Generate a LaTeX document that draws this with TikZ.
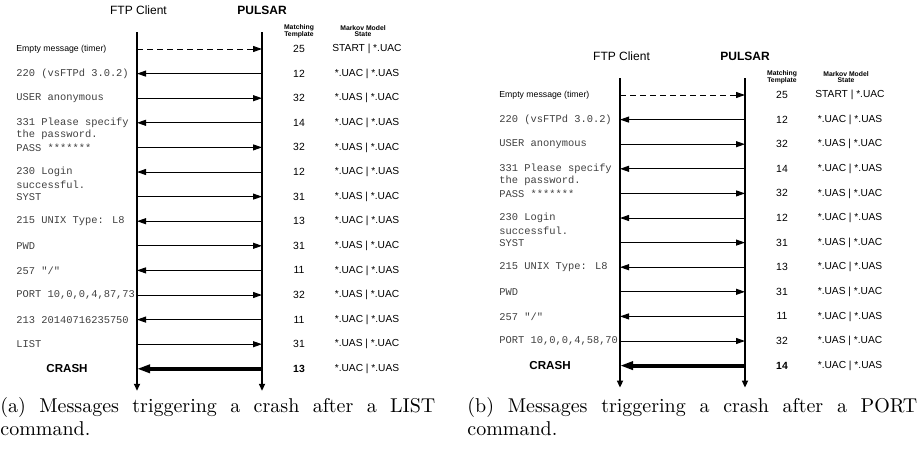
\documentclass[tikz,border=0pt]{standalone}
\usepackage{fontspec}
\newfontfamily\helvfont{Liberation Sans}
\newfontfamily\courfont{Liberation Mono}
\usetikzlibrary{arrows.meta}
\tikzset{
  party/.style={inner sep=0pt, font=\helvfont\fontsize{6}{7}\selectfont},
  pulsar/.style={inner sep=0pt, font=\helvfont\bfseries\fontsize{6}{7}\selectfont},
  head/.style={inner sep=0pt, align=center, font=\helvfont\bfseries\fontsize{3.4}{3.3}\selectfont},
  msglabel/.style={anchor=west, inner sep=0pt, text=black!75, font=\courfont\fontsize{5.2}{6}\selectfont},
  timerlabel/.style={anchor=west, inner sep=0pt, font=\helvfont\fontsize{4.35}{5}\selectfont},
  crashlabel/.style={inner sep=0pt, font=\helvfont\bfseries\fontsize{5.8}{6}\selectfont},
  tmpl/.style={inner sep=0pt, font=\helvfont\fontsize{5.2}{6}\selectfont},
  tmplbold/.style={inner sep=0pt, font=\helvfont\bfseries\fontsize{5.2}{6}\selectfont},
  state/.style={inner sep=0pt, font=\helvfont\fontsize{5.1}{6}\selectfont},
  lifeline/.style={line width=0.8pt, -{Triangle[length=3.5pt,width=3pt]}},
  sendR/.style={line width=0.5pt, -{Triangle[length=4.5pt,width=3pt]}},
  sendL/.style={line width=0.5pt, {Triangle[length=4.5pt,width=3pt]}-},
  timer/.style={sendR, dash pattern=on 3pt off 2pt},
  crash/.style={line width=2pt, {Triangle[length=6.5pt,width=4pt]}-},
  subcap/.style={anchor=north west, inner sep=0pt, text width=#1, align=justify, font=\fontsize{10}{11.5}\selectfont},
}
\begin{document}
\begin{tikzpicture}[x=0.5pt,y=-0.5pt,line join=round]
\def\pitch{24.6}
\useasboundingbox (0,0) rectangle (919,461);
% (a) crash after LIST
\begin{scope}[shift={(137,49)}]
\node[party] (aclient) at (1.5,-39) {FTP Client};
\node[pulsar] (apulsar) at (125,-39) {PULSAR};
\node[head] (atmpl) at (162,-18) {Matching\\Template};
\node[head] (astate) at (226,-18) {Markov Model\\State};
\coordinate (actop) at (0,-17);
\coordinate (acbot) at (0,{13*\pitch+22});
\coordinate (aptop) at (125,-17);
\coordinate (apbot) at (125,{13*\pitch+22});
\draw[lifeline] (actop) -- (acbot);
\draw[lifeline] (aptop) -- (apbot);
\coordinate (ac1) at (0,0);
\coordinate (ap1) at (125,0);
\node[timerlabel] (am1) at (-121,0) {Empty message (timer)};
\draw[timer] (ac1) -- (ap1);
\node[tmpl] (an1) at (162,0) {25};
\node[state] (as1) at (230,0) {START | *.UAC};
\foreach \i/\m/\s/\n/\q in {
  2/{220 (vsFTPd 3.0.2)}/sendL/12/{*.UAC | *.UAS},
  3/{USER anonymous}/sendR/32/{*.UAS | *.UAC},
  4/{331 Please specify}/sendL/14/{*.UAC | *.UAS},
  5/{PASS *******}/sendR/32/{*.UAS | *.UAC},
  6/{230 Login}/sendL/12/{*.UAC | *.UAS},
  7/{SYST}/sendR/31/{*.UAS | *.UAC},
  8/{215 UNIX Type: L8}/sendL/13/{*.UAC | *.UAS},
  9/{PWD}/sendR/31/{*.UAS | *.UAC},
  10/{257 "/"}/sendL/11/{*.UAC | *.UAS},
  11/{PORT 10,0,0,4,87,73}/sendR/32/{*.UAS | *.UAC},
  12/{213 20140716235750}/sendL/11/{*.UAC | *.UAS},
  13/{LIST}/sendR/31/{*.UAS | *.UAC}}{
  \coordinate (ac\i) at (0,{(\i-1)*\pitch});
  \coordinate (ap\i) at (125,{(\i-1)*\pitch});
  \node[msglabel] (am\i) at (-121,{(\i-1)*\pitch}) {\m};
  \draw[\s] (ac\i) -- (ap\i);
  \node[tmpl] (an\i) at (162,{(\i-1)*\pitch}) {\n};
  \node[state] (as\i) at (230,{(\i-1)*\pitch}) {\q};
}
\node[msglabel] (am4x) at (-121,{3*\pitch+12.3}) {the password.};
\node[msglabel] (am6x) at (-121,{5*\pitch+12.3}) {successful.};
\coordinate (ac14) at (0,{13*\pitch});
\coordinate (ap14) at (125,{13*\pitch});
\node[crashlabel] (am14) at (-70,{13*\pitch}) {CRASH};
\draw[crash] (ac14) -- (ap14);
\node[tmplbold] (an14) at (162,{13*\pitch}) {13};
\node[state] (as14) at (230,{13*\pitch}) {*.UAC | *.UAS};
\end{scope}
% (b) crash after PORT
\begin{scope}[shift={(620,95)}]
\node[party] (bclient) at (1.5,-39) {FTP Client};
\node[pulsar] (bpulsar) at (125,-39) {PULSAR};
\node[head] (btmpl) at (162,-18) {Matching\\Template};
\node[head] (bstate) at (226,-18) {Markov Model\\State};
\coordinate (bctop) at (0,-17);
\coordinate (bcbot) at (0,{11*\pitch+22});
\coordinate (bptop) at (125,-17);
\coordinate (bpbot) at (125,{11*\pitch+22});
\draw[lifeline] (bctop) -- (bcbot);
\draw[lifeline] (bptop) -- (bpbot);
\coordinate (bc1) at (0,0);
\coordinate (bp1) at (125,0);
\node[timerlabel] (bm1) at (-121,0) {Empty message (timer)};
\draw[timer] (bc1) -- (bp1);
\node[tmpl] (bn1) at (162,0) {25};
\node[state] (bs1) at (230,0) {START | *.UAC};
\foreach \i/\m/\s/\n/\q in {
  2/{220 (vsFTPd 3.0.2)}/sendL/12/{*.UAC | *.UAS},
  3/{USER anonymous}/sendR/32/{*.UAS | *.UAC},
  4/{331 Please specify}/sendL/14/{*.UAC | *.UAS},
  5/{PASS *******}/sendR/32/{*.UAS | *.UAC},
  6/{230 Login}/sendL/12/{*.UAC | *.UAS},
  7/{SYST}/sendR/31/{*.UAS | *.UAC},
  8/{215 UNIX Type: L8}/sendL/13/{*.UAC | *.UAS},
  9/{PWD}/sendR/31/{*.UAS | *.UAC},
  10/{257 "/"}/sendL/11/{*.UAC | *.UAS},
  11/{PORT 10,0,0,4,58,70}/sendR/32/{*.UAS | *.UAC}}{
  \coordinate (bc\i) at (0,{(\i-1)*\pitch});
  \coordinate (bp\i) at (125,{(\i-1)*\pitch});
  \node[msglabel] (bm\i) at (-121,{(\i-1)*\pitch}) {\m};
  \draw[\s] (bc\i) -- (bp\i);
  \node[tmpl] (bn\i) at (162,{(\i-1)*\pitch}) {\n};
  \node[state] (bs\i) at (230,{(\i-1)*\pitch}) {\q};
}
\node[msglabel] (bm4x) at (-121,{3*\pitch+12.3}) {the password.};
\node[msglabel] (bm6x) at (-121,{5*\pitch+12.3}) {successful.};
\coordinate (bc12) at (0,{11*\pitch});
\coordinate (bp12) at (125,{11*\pitch});
\node[crashlabel] (bm12) at (-70,{11*\pitch}) {CRASH};
\draw[crash] (bc12) -- (bp12);
\node[tmplbold] (bn12) at (162,{11*\pitch}) {14};
\node[state] (bs12) at (230,{11*\pitch}) {*.UAC | *.UAS};
\end{scope}
% captions
\node[subcap=217.5pt] (capa) at (0,397) {(a) Messages triggering a crash after a LIST\linebreak command.};
\node[subcap=225pt] (capb) at (467,397) {(b) Messages triggering a crash after a PORT\linebreak command.};
\end{tikzpicture}
\end{document}
